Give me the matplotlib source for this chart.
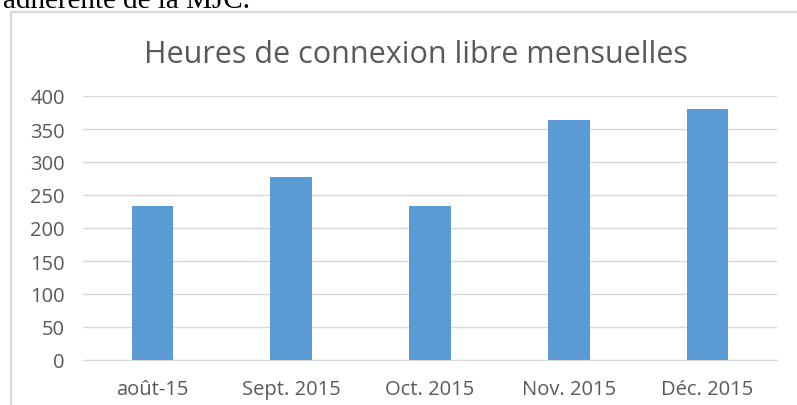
"""
Monthly free connection hours bar chart (MJC report extract).
Saves to out.png.
"""
import matplotlib
matplotlib.use("Agg")
import matplotlib.pyplot as plt
from matplotlib.patches import Rectangle

months = ["août-15", "Sept. 2015", "Oct. 2015", "Nov. 2015", "Déc. 2015"]
hours = [234, 277, 234, 364, 381]
y_ticks = [0, 50, 100, 150, 200, 250, 300, 350, 400]

BAR = "#5b9bd5"
GRID = "#d9d9d9"
TEXT = "#595959"

plt.rcParams["font.family"] = ["Open Sans", "DejaVu Sans"]

fig = plt.figure(figsize=(7.97, 4.06), dpi=100)

# cut-off line of body text above the chart
fig.text(0.004, 1.0 - 8 / 406, "adhérente de la MJC.", family="Liberation Serif",
         fontsize=21, color="black", va="baseline", ha="left")

# chart frame
fig.patches.append(Rectangle((11 / 797, -0.1), 1.1, 1.1 - 13 / 406,
                             transform=fig.transFigure, fill=False,
                             edgecolor=GRID, linewidth=1.6))

ax = fig.add_axes([83 / 797, 45 / 406, 694 / 797, 264 / 406])
xs = list(range(len(months)))
ax.bar(xs, hours, width=0.3, color=BAR, zorder=3)
ax.set_xlim(-0.5, len(months) - 0.5)
ax.set_ylim(0, 400)
ax.set_yticks(y_ticks)
ax.set_xticks(xs)
ax.set_xticklabels(months)
ax.grid(axis="y", color=GRID, linewidth=1.0, zorder=0)
for s in ["top", "right", "left"]:
    ax.spines[s].set_visible(False)
ax.spines["bottom"].set_color(GRID)
ax.tick_params(axis="both", length=0, colors=TEXT, labelsize=14.5)
ax.tick_params(axis="y", pad=13)
ax.tick_params(axis="x", pad=14)

fig.text(0.5225, 1.0 - 55 / 406, "Heures de connexion libre mensuelles",
         ha="center", va="center", fontsize=22, color=TEXT)

fig.savefig("out.png", dpi=100)
plt.close(fig)
